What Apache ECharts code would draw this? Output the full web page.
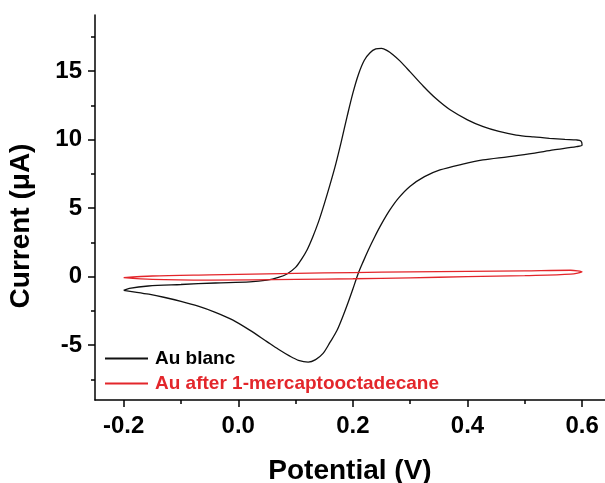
<!DOCTYPE html>
<html>
<head>
<meta charset="utf-8">
<script src="https://cdn.jsdelivr.net/npm/echarts@6/dist/echarts.min.js"></script>
<style>html,body{margin:0;padding:0;background:#fff;}#c{width:605px;height:483px;}</style>
</head>
<body>
<div id="c"></div>
<script>
// ---- data ----
const seriesNames = ['Au blanc', 'Au after 1-mercaptooctadecane'];
const blancPotential = [-0.2, -0.19, -0.157, -0.1, -0.04, 0.02, 0.05, 0.07, 0.085, 0.1, 0.11, 0.12, 0.13, 0.14, 0.15, 0.16, 0.17, 0.18, 0.19, 0.2, 0.21, 0.22, 0.23, 0.24, 0.25, 0.26, 0.27, 0.282, 0.3, 0.323, 0.345, 0.369, 0.4, 0.4275, 0.455, 0.485, 0.515, 0.543, 0.57, 0.59, 0.598, 0.6,
  0.59, 0.55, 0.514, 0.47, 0.427, 0.39, 0.352, 0.325, 0.3, 0.28, 0.2646, 0.25, 0.238, 0.227, 0.218, 0.209, 0.2, 0.192, 0.183, 0.172, 0.16, 0.148, 0.135, 0.122, 0.105, 0.09, 0.07, 0.05, 0.02, -0.01, -0.04, -0.07, -0.1, -0.13, -0.156, -0.18, -0.2];
const blancCurrent = [-1.0, -0.85, -0.68, -0.57, -0.46, -0.38, -0.25, -0.05, 0.2, 0.68, 1.25, 1.95, 2.9, 4.0, 5.3, 6.7, 8.2, 9.9, 11.7, 13.4, 14.8, 15.8, 16.35, 16.62, 16.67, 16.5, 16.2, 15.75, 14.95, 13.9, 13.0, 12.2, 11.45, 10.95, 10.6, 10.34, 10.2, 10.1, 10.02, 9.98, 9.9, 9.61,
  9.49, 9.25, 9.0, 8.75, 8.52, 8.2, 7.79, 7.3, 6.6, 5.75, 4.87, 3.85, 2.9, 1.95, 1.1, 0.2, -0.9, -1.85, -2.85, -3.95, -4.8, -5.6, -6.05, -6.23, -6.1, -5.8, -5.3, -4.74, -3.9, -3.15, -2.6, -2.15, -1.8, -1.5, -1.28, -1.12, -1.0];
const samPotential = [-0.2, -0.15, -0.05, 0.1, 0.2, 0.3, 0.4, 0.5, 0.58, 0.6, 0.58, 0.5, 0.4, 0.3, 0.2, 0.1, -0.05, -0.15, -0.2];
const samCurrent = [-0.07, 0.05, 0.13, 0.24, 0.3, 0.35, 0.39, 0.43, 0.47, 0.36, 0.18, 0.08, 0.0, -0.08, -0.15, -0.2, -0.25, -0.2, -0.07];
const xMajorTicks = [-0.2, 0.0, 0.2, 0.4, 0.6];
const xMinorTicks = [-0.1, 0.1, 0.3, 0.5];
const yMajorTicks = [-5, 0, 5, 10, 15];
const yMinorTicks = [-7.5, -2.5, 2.5, 7.5, 12.5, 17.5];
const xRange = [-0.25, 0.64];
const yRange = [-9, 19.1];
const xTitle = 'Potential (V)';
const yTitle = 'Current (\u03bcA)';

const pairs = (xs, ys) => xs.map((x, i) => [x, ys[i]]);
const FONT = '"Liberation Sans", Arial, sans-serif';
const RED = '#e3262b';

const chart = echarts.init(document.getElementById('c'), null, {renderer: 'canvas'});
const baseX = {type: 'value', position: 'bottom', min: xRange[0], max: xRange[1], splitLine: {show: false}};
const baseY = {type: 'value', position: 'left', min: yRange[0], max: yRange[1], splitLine: {show: false}};
chart.setOption({
  animation: false,
  backgroundColor: '#fff',
  grid: {left: 95, right: 0, top: 15, bottom: 83, containLabel: false, outerBoundsMode: 'none'},
  legend: {
    orient: 'vertical', left: 99, top: 344,
    itemWidth: 43, itemHeight: 14, itemGap: 6,
    itemStyle: {opacity: 0},
    textStyle: {fontFamily: FONT, fontWeight: 'bold', fontSize: 19, lineHeight: 19, padding: [0, 0, 0, 2]},
    data: [
      {name: seriesNames[0], textStyle: {color: '#000'}},
      {name: seriesNames[1], textStyle: {color: RED}}
    ]
  },
  xAxis: [
    Object.assign({}, baseX, {
      name: xTitle, nameLocation: 'middle', nameGap: 57,
      nameTextStyle: {fontFamily: FONT, fontWeight: 'bold', fontSize: 28, color: '#000'},
      axisLine: {onZero: false, lineStyle: {color: '#000', width: 1.5}},
      axisTick: {show: true, length: 7, inside: false, customValues: xMajorTicks, lineStyle: {color: '#000', width: 1.5}},
      axisLabel: {customValues: xMajorTicks, margin: 14, fontFamily: FONT, fontWeight: 'bold', fontSize: 24, color: '#000',
        formatter: v => v.toFixed(1)}
    }),
    Object.assign({}, baseX, {
      axisLine: {show: false, onZero: false},
      axisTick: {show: true, length: 4, customValues: xMinorTicks, lineStyle: {color: '#000', width: 1.5}},
      axisLabel: {show: false}
    })
  ],
  yAxis: [
    Object.assign({}, baseY, {
      name: yTitle, nameLocation: 'middle', nameGap: 60, nameRotate: 90,
      nameTextStyle: {fontFamily: FONT, fontWeight: 'bold', fontSize: 28, color: '#000', padding: [0, 37, 0, 0]},
      axisLine: {show: true, onZero: false, lineStyle: {color: '#000', width: 1.5}},
      axisTick: {show: true, length: 7, customValues: yMajorTicks, lineStyle: {color: '#000', width: 1.5}},
      axisLabel: {customValues: yMajorTicks, margin: 13, fontFamily: FONT, fontWeight: 'bold', fontSize: 24, color: '#000'}
    }),
    Object.assign({}, baseY, {
      axisLine: {show: false, onZero: false},
      axisTick: {show: true, length: 4, customValues: yMinorTicks, lineStyle: {color: '#000', width: 1.5}},
      axisLabel: {show: false}
    })
  ],
  series: [
    {name: seriesNames[0], type: 'line', xAxisIndex: 0, yAxisIndex: 0, data: pairs(blancPotential, blancCurrent),
      symbol: 'none', smooth: 0.3, lineStyle: {color: '#111', width: 1.3}, itemStyle: {color: '#111'}},
    {name: seriesNames[1], type: 'line', xAxisIndex: 0, yAxisIndex: 0, data: pairs(samPotential, samCurrent),
      symbol: 'none', smooth: 0.3, lineStyle: {color: RED, width: 1.3}, itemStyle: {color: RED}}
  ]
});
</script>
</body>
</html>
